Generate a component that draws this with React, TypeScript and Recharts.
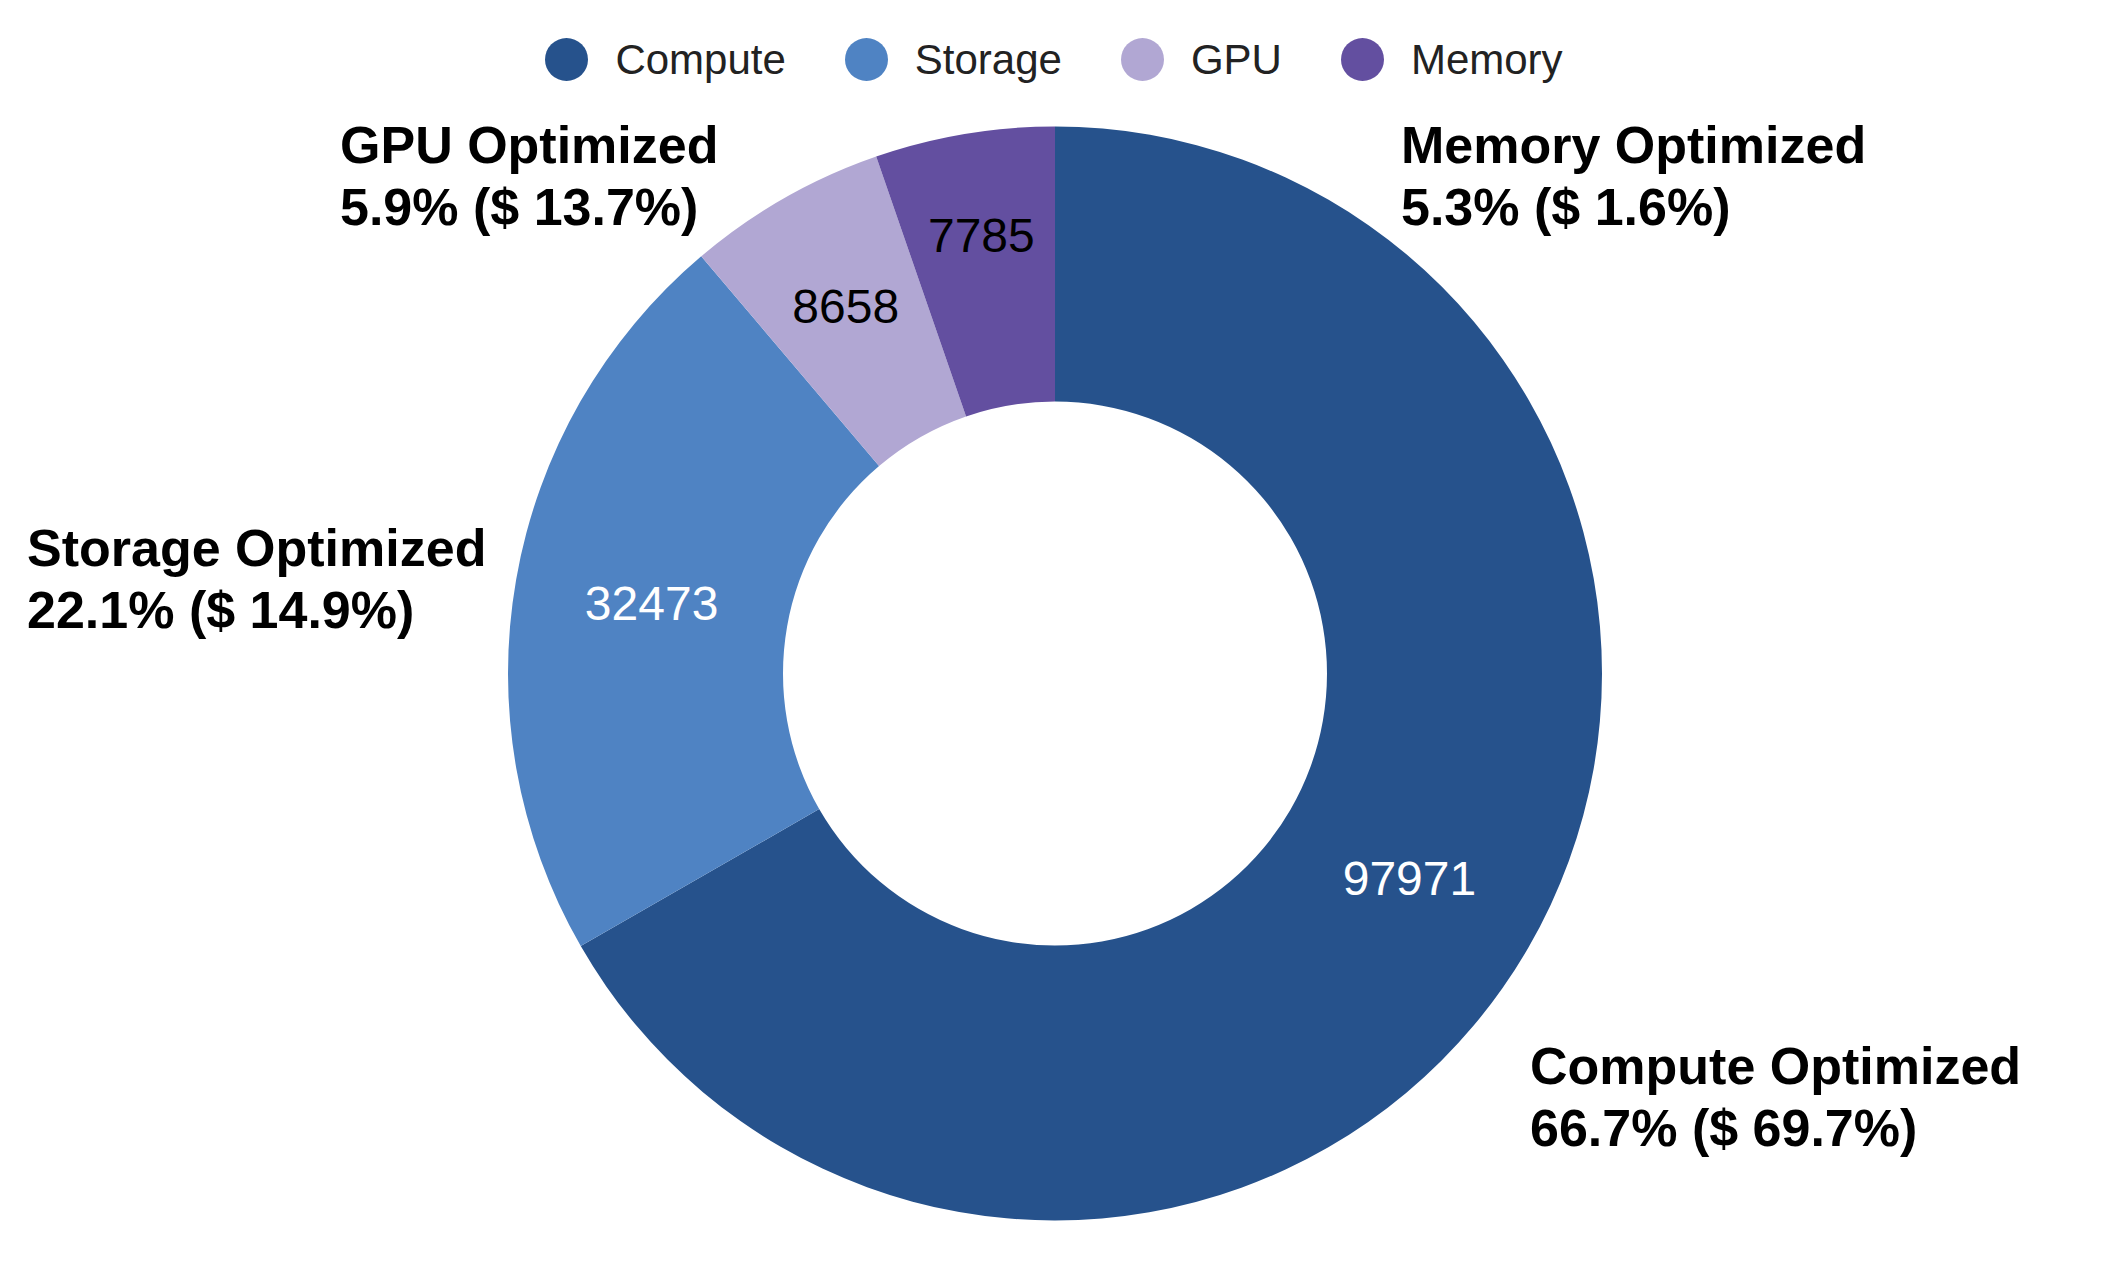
import React from "react";
import { PieChart, Pie, Cell, Legend } from "recharts";

// Instance families, counts and their share of spend
const categories = ["Compute", "Storage", "GPU", "Memory"];
const labelNames = ["Compute Optimized", "Storage Optimized", "GPU Optimized", "Memory Optimized"];
const instanceCounts = [97971, 32473, 8658, 7785];
const costShare = [69.7, 14.9, 13.7, 1.6];

const COLORS = ["#26528C", "#4F83C3", "#B1A7D3", "#634FA0"];
const VALUE_TEXT = ["#ffffff", "#ffffff", "#000000", "#000000"];

// where each outside annotation sits, relative to the pie centre;
// push = extra radial nudge for the value label inside the ring
const LABEL_OFFSETS: Record<string, { dx: number; dy: number; push: number }> = {
  Compute: { dx: 475, dy: 410, push: 0 },
  Storage: { dx: -1028, dy: -108, push: 0 },
  GPU: { dx: -715, dy: -511, push: 13 },
  Memory: { dx: 346, dy: -511, push: 35 },
};

const FONT = '"Liberation Sans", Arial, Helvetica, sans-serif';
const RADIAN = Math.PI / 180;

const data = categories.map((name, i) => ({
  name,
  label: labelNames[i],
  value: instanceCounts[i],
  cost: costShare[i],
}));

function renderLabel(props: any) {
  const { cx, cy, midAngle, innerRadius, outerRadius, percent, index, payload } = props;
  const item = payload?.payload ?? payload ?? data[index];
  const name = item.name ?? categories[index];
  const off = LABEL_OFFSETS[name];
  const r = (innerRadius + outerRadius) / 2 + off.push;
  const x = cx + r * Math.cos(-midAngle * RADIAN);
  const y = cy + r * Math.sin(-midAngle * RADIAN);
  return (
    <g>
      <text
        x={x}
        y={y}
        fill={VALUE_TEXT[index]}
        textAnchor="middle"
        dominantBaseline="central"
        fontSize={48}
        fontFamily={FONT}
      >
        {item.value}
      </text>
      <text x={cx + off.dx} y={cy + off.dy} fontSize={52} fontWeight="bold" fontFamily={FONT} fill="#000">
        <tspan x={cx + off.dx}>{item.label}</tspan>
        <tspan x={cx + off.dx} dy={62}>
          {`${(percent * 100).toFixed(1)}% ($ ${item.cost}%)`}
        </tspan>
      </text>
    </g>
  );
}

function renderLegend() {
  return (
    <div style={{ display: "flex", justifyContent: "center", alignItems: "center", fontFamily: FONT }}>
      {categories.map((name, i) => (
        <div key={name} style={{ display: "flex", alignItems: "center", marginRight: i < categories.length - 1 ? 59 : 0 }}>
          <svg width={43} height={43} style={{ marginRight: 27 }}>
            <circle cx={21.5} cy={21.5} r={21.5} fill={COLORS[i]} />
          </svg>
          <span style={{ fontSize: 42, color: "#222", lineHeight: "43px" }}>{name}</span>
        </div>
      ))}
    </div>
  );
}

export default function App() {
  return (
    <div style={{ width: 2092, height: 1246, background: "#fff" }}>
      <PieChart width={2092} height={1246} margin={{ top: 0, right: 0, bottom: 0, left: 0 }}>
        <Legend
          verticalAlign="middle"
          content={renderLegend}
          wrapperStyle={{ top: 30, left: 0, width: 2092 }}
        />
        <Pie
          data={data}
          dataKey="value"
          nameKey="name"
          cx={1047}
          cy={665.5}
          innerRadius={272}
          outerRadius={547}
          startAngle={90}
          endAngle={-270}
          stroke="none"
          label={renderLabel}
          labelLine={false}
          isAnimationActive={false}
        >
          {data.map((d, i) => (
            <Cell key={d.name} fill={COLORS[i]} />
          ))}
        </Pie>
      </PieChart>
    </div>
  );
}
